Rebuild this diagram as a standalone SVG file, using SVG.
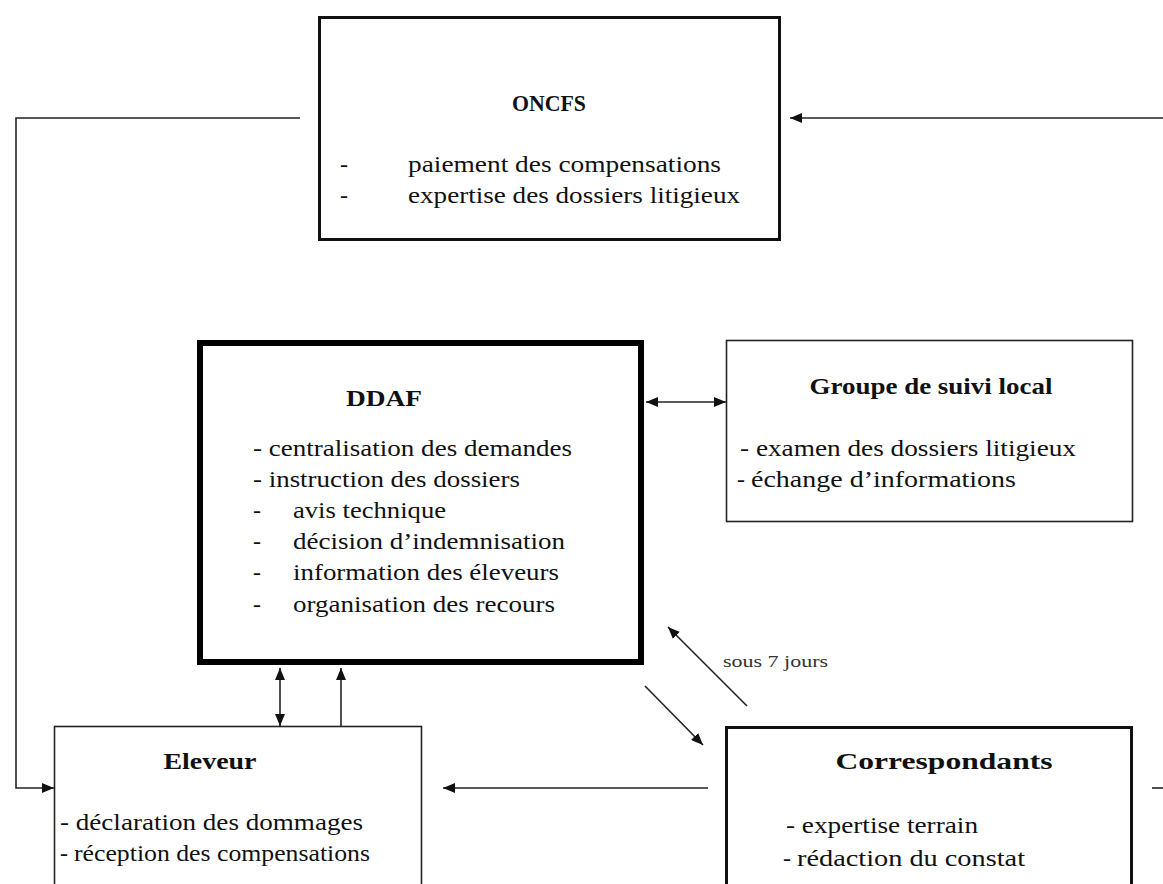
<svg xmlns="http://www.w3.org/2000/svg" width="1163" height="884" viewBox="0 0 1163 884">
<style>
.t{font-family:"Liberation Serif","Times New Roman",serif;font-size:24px;fill:#111}
.h{font-family:"Liberation Serif","Times New Roman",serif;font-size:24px;font-weight:bold;fill:#111;text-anchor:middle}
.s{font-family:"Liberation Serif","Times New Roman",serif;font-size:16px;fill:#333}
.c{stroke:#222;stroke-width:1.6;fill:none}
</style>
<defs>
<marker id="a" viewBox="0 0 12 10" refX="12" refY="5" markerWidth="12" markerHeight="10" markerUnits="userSpaceOnUse" orient="auto-start-reverse">
<path d="M0,0 L12,5 L0,10 z" fill="#111"/>
</marker>
</defs>
<rect width="1163" height="884" fill="#fff"/>
<g id="connectors">
<polyline class="c" points="300,118 16,118 16,788 54,788" marker-end="url(#a)"/>
<line class="c" x1="1163" y1="118" x2="790" y2="118" marker-end="url(#a)"/>
<line class="c" x1="646" y1="402" x2="726" y2="402" marker-start="url(#a)" marker-end="url(#a)"/>
<line class="c" x1="280" y1="668" x2="280" y2="726" marker-start="url(#a)" marker-end="url(#a)"/>
<line class="c" x1="341" y1="726" x2="341" y2="668" marker-end="url(#a)"/>
<line class="c" x1="645" y1="686" x2="703" y2="745" marker-end="url(#a)"/>
<line class="c" x1="747" y1="706" x2="668" y2="627" marker-end="url(#a)"/>
<line class="c" x1="708" y1="788" x2="443" y2="788" marker-end="url(#a)"/>
<line class="c" x1="1152" y1="788" x2="1163" y2="788"/>
<text class="s" x="723" y="667" textLength="105" lengthAdjust="spacingAndGlyphs">sous 7 jours</text>
</g>
<g id="oncfs">
<rect x="319.5" y="17.5" width="460" height="222" fill="none" stroke="#111" stroke-width="3"/>
<text class="h" x="549" y="111" textLength="74" lengthAdjust="spacingAndGlyphs">ONCFS</text>
<text class="t" x="340" y="172">-</text>
<text class="t" x="408" y="172" textLength="313" lengthAdjust="spacingAndGlyphs">paiement des compensations</text>
<text class="t" x="340" y="203">-</text>
<text class="t" x="408" y="203" textLength="332" lengthAdjust="spacingAndGlyphs">expertise des dossiers litigieux</text>
</g>
<g id="ddaf">
<rect x="200" y="343" width="441" height="319" fill="none" stroke="#000" stroke-width="6"/>
<text class="h" x="384" y="406" textLength="76" lengthAdjust="spacingAndGlyphs">DDAF</text>
<text class="t" x="253" y="456" textLength="319" lengthAdjust="spacingAndGlyphs">- centralisation des demandes</text>
<text class="t" x="253" y="487" textLength="267" lengthAdjust="spacingAndGlyphs">- instruction des dossiers</text>
<text class="t" x="253" y="518">-</text>
<text class="t" x="293" y="518" textLength="153" lengthAdjust="spacingAndGlyphs">avis technique</text>
<text class="t" x="253" y="549">-</text>
<text class="t" x="293" y="549" textLength="272" lengthAdjust="spacingAndGlyphs">décision d’indemnisation</text>
<text class="t" x="253" y="580">-</text>
<text class="t" x="293" y="580" textLength="266" lengthAdjust="spacingAndGlyphs">information des éleveurs</text>
<text class="t" x="253" y="612">-</text>
<text class="t" x="293" y="612" textLength="262" lengthAdjust="spacingAndGlyphs">organisation des recours</text>
</g>
<g id="groupe">
<rect x="726.5" y="340.5" width="406" height="181" fill="none" stroke="#222" stroke-width="1.6"/>
<text class="h" x="931" y="394" textLength="243" lengthAdjust="spacingAndGlyphs">Groupe de suivi local</text>
<text class="t" x="740" y="456" textLength="336" lengthAdjust="spacingAndGlyphs">- examen des dossiers litigieux</text>
<text class="t" x="737" y="487">-</text>
<text class="t" x="751" y="487" textLength="265" lengthAdjust="spacingAndGlyphs">échange d’informations</text>
</g>
<g id="eleveur">
<rect x="54.5" y="726.5" width="367" height="170" fill="none" stroke="#222" stroke-width="1.6"/>
<text class="h" x="210" y="769" textLength="93" lengthAdjust="spacingAndGlyphs">Eleveur</text>
<text class="t" x="60" y="830" textLength="303" lengthAdjust="spacingAndGlyphs">- déclaration des dommages</text>
<text class="t" x="60" y="861">-</text>
<text class="t" x="74" y="861" textLength="296" lengthAdjust="spacingAndGlyphs">réception des compensations</text>
</g>
<g id="correspondants">
<rect x="726.5" y="727.5" width="405" height="170" fill="none" stroke="#111" stroke-width="3"/>
<text class="h" x="944" y="769" textLength="217" lengthAdjust="spacingAndGlyphs">Correspondants</text>
<text class="t" x="786" y="833" textLength="192" lengthAdjust="spacingAndGlyphs">- expertise terrain</text>
<text class="t" x="783" y="866">-</text>
<text class="t" x="797" y="866" textLength="228" lengthAdjust="spacingAndGlyphs">rédaction du constat</text>
</g>
</svg>
